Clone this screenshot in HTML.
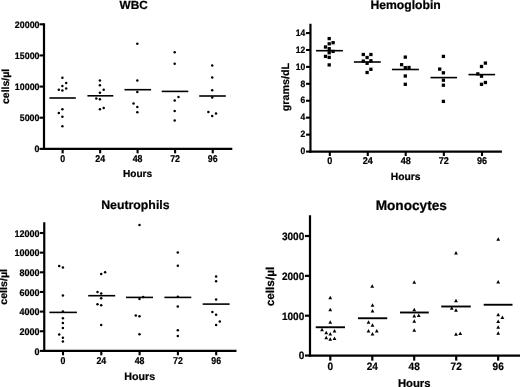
<!DOCTYPE html>
<html><head><meta charset="utf-8"><title>Blood counts over time</title>
<style>
html,body{margin:0;padding:0;background:#fff;}
svg{display:block;will-change:transform;}
svg text{font-family:'Liberation Sans', Arial, Helvetica, sans-serif;font-weight:bold;fill:#000;stroke:#000;stroke-width:0.22px;text-rendering:geometricPrecision;}
svg line{stroke:#000;}
</style></head>
<body>
<svg width="520" height="387" viewBox="0 0 520 387">
<rect x="0" y="0" width="520" height="387" fill="#fff" stroke="none"/>
<g>
<line x1="44" y1="23.3" x2="44" y2="149.95" stroke-width="2.2"/>
<line x1="42.9" y1="148.85" x2="232.3" y2="148.85" stroke-width="2.2"/>
<line x1="39.5" y1="148.85" x2="44" y2="148.85" stroke-width="2.1"/>
<text x="39.5" y="152.12" font-size="9.4" text-anchor="end" textLength="4.93" lengthAdjust="spacingAndGlyphs">0</text>
<line x1="39.5" y1="117.7" x2="44" y2="117.7" stroke-width="2.1"/>
<text x="39.5" y="120.97" font-size="9.4" text-anchor="end" textLength="19.72" lengthAdjust="spacingAndGlyphs">5000</text>
<line x1="39.5" y1="86.58" x2="44" y2="86.58" stroke-width="2.1"/>
<text x="39.5" y="89.85" font-size="9.4" text-anchor="end" textLength="24.65" lengthAdjust="spacingAndGlyphs">10000</text>
<line x1="39.5" y1="55.44" x2="44" y2="55.44" stroke-width="2.1"/>
<text x="39.5" y="58.71" font-size="9.4" text-anchor="end" textLength="24.65" lengthAdjust="spacingAndGlyphs">15000</text>
<line x1="39.5" y1="24.3" x2="44" y2="24.3" stroke-width="2.1"/>
<text x="39.5" y="27.57" font-size="9.4" text-anchor="end" textLength="24.65" lengthAdjust="spacingAndGlyphs">20000</text>
<line x1="62.65" y1="148.85" x2="62.65" y2="153.35" stroke-width="2.1"/>
<text x="62.65" y="161.8" font-size="9.9" text-anchor="middle" textLength="4.9" lengthAdjust="spacingAndGlyphs">0</text>
<line x1="100.15" y1="148.85" x2="100.15" y2="153.35" stroke-width="2.1"/>
<text x="100.15" y="161.8" font-size="9.9" text-anchor="middle" textLength="9.8" lengthAdjust="spacingAndGlyphs">24</text>
<line x1="137.6" y1="148.85" x2="137.6" y2="153.35" stroke-width="2.1"/>
<text x="137.6" y="161.8" font-size="9.9" text-anchor="middle" textLength="9.8" lengthAdjust="spacingAndGlyphs">48</text>
<line x1="175.1" y1="148.85" x2="175.1" y2="153.35" stroke-width="2.1"/>
<text x="175.1" y="161.8" font-size="9.9" text-anchor="middle" textLength="9.8" lengthAdjust="spacingAndGlyphs">72</text>
<line x1="212.75" y1="148.85" x2="212.75" y2="153.35" stroke-width="2.1"/>
<text x="212.75" y="161.8" font-size="9.9" text-anchor="middle" textLength="9.8" lengthAdjust="spacingAndGlyphs">96</text>
<text x="133.6" y="9.3" font-size="11.8" text-anchor="middle">WBC</text>
<text x="137.6" y="176.7" font-size="10.1" text-anchor="middle">Hours</text>
<text x="9" y="86.4" font-size="10.3" text-anchor="middle" transform="rotate(-90 9 86.4)" textLength="35.2" lengthAdjust="spacingAndGlyphs">cells/µl</text>
<line x1="49.4" y1="98.0" x2="75.8" y2="98.0" stroke-width="1.6"/>
<line x1="87.4" y1="95.8" x2="113.3" y2="95.8" stroke-width="1.6"/>
<line x1="124.5" y1="89.7" x2="151.1" y2="89.7" stroke-width="1.6"/>
<line x1="161.7" y1="91.4" x2="188.3" y2="91.4" stroke-width="1.6"/>
<line x1="199.2" y1="96.0" x2="225.8" y2="96.0" stroke-width="1.6"/>
<circle cx="62.4" cy="77.7" r="1.25"/>
<circle cx="66.2" cy="83.0" r="1.25"/>
<circle cx="62.4" cy="86.1" r="1.25"/>
<circle cx="66.2" cy="88.4" r="1.25"/>
<circle cx="58.8" cy="89.7" r="1.25"/>
<circle cx="62.4" cy="90.4" r="1.25"/>
<circle cx="62.4" cy="109.2" r="1.25"/>
<circle cx="58.8" cy="112.9" r="1.25"/>
<circle cx="62.4" cy="116.8" r="1.25"/>
<circle cx="62.4" cy="126.2" r="1.25"/>
<circle cx="99.9" cy="80.5" r="1.25"/>
<circle cx="99.9" cy="85.3" r="1.25"/>
<circle cx="103.7" cy="89.7" r="1.25"/>
<circle cx="99.9" cy="92.8" r="1.25"/>
<circle cx="96.3" cy="98.6" r="1.25"/>
<circle cx="99.9" cy="99.3" r="1.25"/>
<circle cx="103.7" cy="108.0" r="1.25"/>
<circle cx="99.9" cy="109.2" r="1.25"/>
<circle cx="137.3" cy="43.8" r="1.25"/>
<circle cx="137.3" cy="80.5" r="1.25"/>
<circle cx="137.3" cy="91.9" r="1.25"/>
<circle cx="133.5" cy="103.6" r="1.25"/>
<circle cx="137.3" cy="107.1" r="1.25"/>
<circle cx="137.3" cy="112.3" r="1.25"/>
<circle cx="174.7" cy="52.3" r="1.25"/>
<circle cx="174.7" cy="63.7" r="1.25"/>
<circle cx="178.5" cy="97.1" r="1.25"/>
<circle cx="174.7" cy="100.6" r="1.25"/>
<circle cx="174.7" cy="110.9" r="1.25"/>
<circle cx="174.7" cy="120.4" r="1.25"/>
<circle cx="212.2" cy="65.6" r="1.25"/>
<circle cx="212.2" cy="77.5" r="1.25"/>
<circle cx="212.2" cy="90.3" r="1.25"/>
<circle cx="212.2" cy="97.6" r="1.25"/>
<circle cx="208.4" cy="112.0" r="1.25"/>
<circle cx="216" cy="113.6" r="1.25"/>
<circle cx="212.2" cy="116.1" r="1.25"/>
</g>
<g>
<line x1="310.45" y1="23.75" x2="310.45" y2="152.7" stroke-width="2.2"/>
<line x1="309.34999999999997" y1="151.6" x2="501.9" y2="151.6" stroke-width="2.4"/>
<line x1="306.04999999999995" y1="151.6" x2="310.45" y2="151.6" stroke-width="2.1"/>
<text x="305.3" y="154.33" font-size="9.3" text-anchor="end" textLength="4.75" lengthAdjust="spacingAndGlyphs">0</text>
<line x1="306.04999999999995" y1="134.65" x2="310.45" y2="134.65" stroke-width="2.1"/>
<text x="305.3" y="137.38" font-size="9.3" text-anchor="end" textLength="4.75" lengthAdjust="spacingAndGlyphs">2</text>
<line x1="306.04999999999995" y1="117.66" x2="310.45" y2="117.66" stroke-width="2.1"/>
<text x="305.3" y="120.39" font-size="9.3" text-anchor="end" textLength="4.75" lengthAdjust="spacingAndGlyphs">4</text>
<line x1="306.04999999999995" y1="100.74" x2="310.45" y2="100.74" stroke-width="2.1"/>
<text x="305.3" y="103.47" font-size="9.3" text-anchor="end" textLength="4.75" lengthAdjust="spacingAndGlyphs">6</text>
<line x1="306.04999999999995" y1="83.82" x2="310.45" y2="83.82" stroke-width="2.1"/>
<text x="305.3" y="86.55" font-size="9.3" text-anchor="end" textLength="4.75" lengthAdjust="spacingAndGlyphs">8</text>
<line x1="306.04999999999995" y1="66.9" x2="310.45" y2="66.9" stroke-width="2.1"/>
<text x="305.3" y="69.63" font-size="9.3" text-anchor="end" textLength="9.5" lengthAdjust="spacingAndGlyphs">10</text>
<line x1="306.04999999999995" y1="49.98" x2="310.45" y2="49.98" stroke-width="2.1"/>
<text x="305.3" y="52.71" font-size="9.3" text-anchor="end" textLength="9.5" lengthAdjust="spacingAndGlyphs">12</text>
<line x1="306.04999999999995" y1="33.05" x2="310.45" y2="33.05" stroke-width="2.1"/>
<text x="305.3" y="35.78" font-size="9.3" text-anchor="end" textLength="9.5" lengthAdjust="spacingAndGlyphs">14</text>
<line x1="329.8" y1="151.6" x2="329.8" y2="156.0" stroke-width="2.1"/>
<text x="329.8" y="164.3" font-size="9.9" text-anchor="middle" textLength="5.05" lengthAdjust="spacingAndGlyphs">0</text>
<line x1="367.75" y1="151.6" x2="367.75" y2="156.0" stroke-width="2.1"/>
<text x="367.75" y="164.3" font-size="9.9" text-anchor="middle" textLength="10.1" lengthAdjust="spacingAndGlyphs">24</text>
<line x1="405.7" y1="151.6" x2="405.7" y2="156.0" stroke-width="2.1"/>
<text x="405.7" y="164.3" font-size="9.9" text-anchor="middle" textLength="10.1" lengthAdjust="spacingAndGlyphs">48</text>
<line x1="443.85" y1="151.6" x2="443.85" y2="156.0" stroke-width="2.1"/>
<text x="443.85" y="164.3" font-size="9.9" text-anchor="middle" textLength="10.1" lengthAdjust="spacingAndGlyphs">72</text>
<line x1="482.0" y1="151.6" x2="482.0" y2="156.0" stroke-width="2.1"/>
<text x="482.0" y="164.3" font-size="9.9" text-anchor="middle" textLength="10.1" lengthAdjust="spacingAndGlyphs">96</text>
<text x="405.6" y="9" font-size="12.2" text-anchor="middle">Hemoglobin</text>
<text x="405.6" y="179.8" font-size="10.3" text-anchor="middle">Hours</text>
<text x="289.3" y="87.1" font-size="10.6" text-anchor="middle" transform="rotate(-90 289.3 87.1)" textLength="48.4" lengthAdjust="spacingAndGlyphs">grams/dL</text>
<line x1="316" y1="50.7" x2="342.9" y2="50.7" stroke-width="1.6"/>
<line x1="353.9" y1="62.0" x2="380.8" y2="62.0" stroke-width="1.6"/>
<line x1="391.9" y1="69.5" x2="418.9" y2="69.5" stroke-width="1.6"/>
<line x1="430.5" y1="77.6" x2="457" y2="77.6" stroke-width="1.6"/>
<line x1="468.5" y1="74.6" x2="495.1" y2="74.6" stroke-width="1.6"/>
<rect x="327.55" y="36.95" width="3.3" height="3.3"/>
<rect x="331.45" y="41.05" width="3.3" height="3.3"/>
<rect x="327.55" y="42.15" width="3.3" height="3.3"/>
<rect x="323.85" y="45.35" width="3.3" height="3.3"/>
<rect x="327.55" y="47.05" width="3.3" height="3.3"/>
<rect x="331.45" y="49.75" width="3.3" height="3.3"/>
<rect x="327.55" y="51.05" width="3.3" height="3.3"/>
<rect x="323.85" y="54.75" width="3.3" height="3.3"/>
<rect x="327.55" y="55.75" width="3.3" height="3.3"/>
<rect x="327.55" y="63.25" width="3.3" height="3.3"/>
<rect x="361.65" y="52.85" width="3.3" height="3.3"/>
<rect x="369.25" y="52.85" width="3.3" height="3.3"/>
<rect x="365.45" y="55.85" width="3.3" height="3.3"/>
<rect x="361.65" y="59.45" width="3.3" height="3.3"/>
<rect x="369.25" y="59.15" width="3.3" height="3.3"/>
<rect x="365.45" y="61.65" width="3.3" height="3.3"/>
<rect x="369.25" y="67.65" width="3.3" height="3.3"/>
<rect x="365.45" y="70.85" width="3.3" height="3.3"/>
<rect x="403.65" y="55.45" width="3.3" height="3.3"/>
<rect x="399.95" y="63.05" width="3.3" height="3.3"/>
<rect x="403.65" y="66.05" width="3.3" height="3.3"/>
<rect x="407.35" y="65.85" width="3.3" height="3.3"/>
<rect x="403.65" y="74.35" width="3.3" height="3.3"/>
<rect x="403.65" y="82.65" width="3.3" height="3.3"/>
<rect x="441.75" y="54.75" width="3.3" height="3.3"/>
<rect x="438.05" y="67.45" width="3.3" height="3.3"/>
<rect x="441.75" y="71.15" width="3.3" height="3.3"/>
<rect x="441.75" y="78.55" width="3.3" height="3.3"/>
<rect x="441.75" y="83.55" width="3.3" height="3.3"/>
<rect x="441.75" y="99.75" width="3.3" height="3.3"/>
<rect x="483.75" y="61.45" width="3.3" height="3.3"/>
<rect x="479.85" y="64.85" width="3.3" height="3.3"/>
<rect x="476.15" y="72.25" width="3.3" height="3.3"/>
<rect x="479.85" y="74.55" width="3.3" height="3.3"/>
<rect x="483.75" y="80.85" width="3.3" height="3.3"/>
<rect x="479.85" y="82.65" width="3.3" height="3.3"/>
</g>
<g>
<line x1="44.25" y1="222.25" x2="44.25" y2="352.0" stroke-width="2.2"/>
<line x1="43.15" y1="350.9" x2="236.5" y2="350.9" stroke-width="2.2"/>
<line x1="39.85" y1="350.9" x2="44.25" y2="350.9" stroke-width="2.1"/>
<text x="39.4" y="354.54" font-size="9.6" text-anchor="end" textLength="5.0" lengthAdjust="spacingAndGlyphs">0</text>
<line x1="39.85" y1="331.25" x2="44.25" y2="331.25" stroke-width="2.1"/>
<text x="39.4" y="334.89" font-size="9.6" text-anchor="end" textLength="20.0" lengthAdjust="spacingAndGlyphs">2000</text>
<line x1="39.85" y1="311.6" x2="44.25" y2="311.6" stroke-width="2.1"/>
<text x="39.4" y="315.24" font-size="9.6" text-anchor="end" textLength="20.0" lengthAdjust="spacingAndGlyphs">4000</text>
<line x1="39.85" y1="291.95" x2="44.25" y2="291.95" stroke-width="2.1"/>
<text x="39.4" y="295.59" font-size="9.6" text-anchor="end" textLength="20.0" lengthAdjust="spacingAndGlyphs">6000</text>
<line x1="39.85" y1="272.3" x2="44.25" y2="272.3" stroke-width="2.1"/>
<text x="39.4" y="275.94" font-size="9.6" text-anchor="end" textLength="20.0" lengthAdjust="spacingAndGlyphs">8000</text>
<line x1="39.85" y1="252.65" x2="44.25" y2="252.65" stroke-width="2.1"/>
<text x="39.4" y="256.29" font-size="9.6" text-anchor="end" textLength="25.0" lengthAdjust="spacingAndGlyphs">10000</text>
<line x1="39.85" y1="233.0" x2="44.25" y2="233.0" stroke-width="2.1"/>
<text x="39.4" y="236.64" font-size="9.6" text-anchor="end" textLength="25.0" lengthAdjust="spacingAndGlyphs">12000</text>
<line x1="63" y1="350.9" x2="63" y2="355.3" stroke-width="2.1"/>
<text x="63" y="364" font-size="10.0" text-anchor="middle" textLength="4.9" lengthAdjust="spacingAndGlyphs">0</text>
<line x1="101.3" y1="350.9" x2="101.3" y2="355.3" stroke-width="2.1"/>
<text x="101.3" y="364" font-size="10.0" text-anchor="middle" textLength="9.8" lengthAdjust="spacingAndGlyphs">24</text>
<line x1="139.6" y1="350.9" x2="139.6" y2="355.3" stroke-width="2.1"/>
<text x="139.6" y="364" font-size="10.0" text-anchor="middle" textLength="9.8" lengthAdjust="spacingAndGlyphs">48</text>
<line x1="177.9" y1="350.9" x2="177.9" y2="355.3" stroke-width="2.1"/>
<text x="177.9" y="364" font-size="10.0" text-anchor="middle" textLength="9.8" lengthAdjust="spacingAndGlyphs">72</text>
<line x1="216.2" y1="350.9" x2="216.2" y2="355.3" stroke-width="2.1"/>
<text x="216.2" y="364" font-size="10.0" text-anchor="middle" textLength="9.8" lengthAdjust="spacingAndGlyphs">96</text>
<text x="135.4" y="209" font-size="12.3" text-anchor="middle">Neutrophils</text>
<text x="139.8" y="380" font-size="10.7" text-anchor="middle">Hours</text>
<text x="7.3" y="286.9" font-size="10.4" text-anchor="middle" transform="rotate(-90 7.3 286.9)" textLength="35.8" lengthAdjust="spacingAndGlyphs">cells/µl</text>
<line x1="49.4" y1="312.4" x2="76.9" y2="312.4" stroke-width="1.6"/>
<line x1="88.2" y1="295.7" x2="115.2" y2="295.7" stroke-width="1.6"/>
<line x1="126" y1="297.4" x2="153" y2="297.4" stroke-width="1.6"/>
<line x1="164.4" y1="297.4" x2="191.3" y2="297.4" stroke-width="1.6"/>
<line x1="202.7" y1="304.1" x2="229.6" y2="304.1" stroke-width="1.6"/>
<circle cx="59.2" cy="266.0" r="1.25"/>
<circle cx="62.9" cy="267.5" r="1.25"/>
<circle cx="62.9" cy="295.5" r="1.25"/>
<circle cx="62.9" cy="311.4" r="1.25"/>
<circle cx="62.9" cy="318.3" r="1.25"/>
<circle cx="62.9" cy="323.0" r="1.25"/>
<circle cx="62.9" cy="327.9" r="1.25"/>
<circle cx="59.2" cy="334.5" r="1.25"/>
<circle cx="62.9" cy="337.7" r="1.25"/>
<circle cx="62.9" cy="341.4" r="1.25"/>
<circle cx="105.1" cy="272.2" r="1.25"/>
<circle cx="101.2" cy="274.1" r="1.25"/>
<circle cx="97.5" cy="292.1" r="1.25"/>
<circle cx="101.2" cy="293.5" r="1.25"/>
<circle cx="101.2" cy="298.2" r="1.25"/>
<circle cx="97.5" cy="304.3" r="1.25"/>
<circle cx="101.2" cy="305.3" r="1.25"/>
<circle cx="101.2" cy="324.9" r="1.25"/>
<circle cx="139.5" cy="225.1" r="1.25"/>
<circle cx="143.2" cy="297" r="1.25"/>
<circle cx="139.5" cy="299.0" r="1.25"/>
<circle cx="135.8" cy="315.5" r="1.25"/>
<circle cx="139.5" cy="316.2" r="1.25"/>
<circle cx="139.5" cy="334.3" r="1.25"/>
<circle cx="177.8" cy="252.6" r="1.25"/>
<circle cx="177.8" cy="265.8" r="1.25"/>
<circle cx="177.8" cy="296.7" r="1.25"/>
<circle cx="177.8" cy="306.4" r="1.25"/>
<circle cx="177.8" cy="330.3" r="1.25"/>
<circle cx="177.8" cy="336.0" r="1.25"/>
<circle cx="216.1" cy="276.5" r="1.25"/>
<circle cx="216.1" cy="281.2" r="1.25"/>
<circle cx="216.1" cy="299.4" r="1.25"/>
<circle cx="212.4" cy="312.1" r="1.25"/>
<circle cx="216.1" cy="314.8" r="1.25"/>
<circle cx="219.8" cy="321.6" r="1.25"/>
<circle cx="216.1" cy="324.9" r="1.25"/>
</g>
<g>
<line x1="310" y1="215.25" x2="310" y2="356.65000000000003" stroke-width="2.2"/>
<line x1="308.9" y1="355.55" x2="521" y2="355.55" stroke-width="2.2"/>
<line x1="304.9" y1="355.55" x2="310" y2="355.55" stroke-width="2.2"/>
<text x="304.3" y="359.38" font-size="10.7" text-anchor="end" textLength="5.6" lengthAdjust="spacingAndGlyphs">0</text>
<line x1="304.9" y1="315.7" x2="310" y2="315.7" stroke-width="2.2"/>
<text x="304.3" y="319.53" font-size="10.7" text-anchor="end" textLength="22.4" lengthAdjust="spacingAndGlyphs">1000</text>
<line x1="304.9" y1="275.85" x2="310" y2="275.85" stroke-width="2.2"/>
<text x="304.3" y="279.68" font-size="10.7" text-anchor="end" textLength="22.4" lengthAdjust="spacingAndGlyphs">2000</text>
<line x1="304.9" y1="236" x2="310" y2="236" stroke-width="2.2"/>
<text x="304.3" y="239.83" font-size="10.7" text-anchor="end" textLength="22.4" lengthAdjust="spacingAndGlyphs">3000</text>
<line x1="330.3" y1="355.55" x2="330.3" y2="360.65000000000003" stroke-width="2.2"/>
<text x="330.3" y="370.1" font-size="10.7" text-anchor="middle" textLength="5.6" lengthAdjust="spacingAndGlyphs">0</text>
<line x1="372.3" y1="355.55" x2="372.3" y2="360.65000000000003" stroke-width="2.2"/>
<text x="372.3" y="370.1" font-size="10.7" text-anchor="middle" textLength="11.2" lengthAdjust="spacingAndGlyphs">24</text>
<line x1="414.2" y1="355.55" x2="414.2" y2="360.65000000000003" stroke-width="2.2"/>
<text x="414.2" y="370.1" font-size="10.7" text-anchor="middle" textLength="11.2" lengthAdjust="spacingAndGlyphs">48</text>
<line x1="456.2" y1="355.55" x2="456.2" y2="360.65000000000003" stroke-width="2.2"/>
<text x="456.2" y="370.1" font-size="10.7" text-anchor="middle" textLength="11.2" lengthAdjust="spacingAndGlyphs">72</text>
<line x1="498.15" y1="355.55" x2="498.15" y2="360.65000000000003" stroke-width="2.2"/>
<text x="498.15" y="370.1" font-size="10.7" text-anchor="middle" textLength="11.2" lengthAdjust="spacingAndGlyphs">96</text>
<text x="411.3" y="209.5" font-size="13.65" text-anchor="middle">Monocytes</text>
<text x="414.2" y="387.2" font-size="11.3" text-anchor="middle">Hours</text>
<text x="273.7" y="286.5" font-size="11.5" text-anchor="middle" transform="rotate(-90 273.7 286.5)" textLength="39.6" lengthAdjust="spacingAndGlyphs">cells/µl</text>
<line x1="315.75" y1="327.25" x2="345" y2="327.25" stroke-width="1.9"/>
<line x1="358" y1="318.25" x2="387.25" y2="318.25" stroke-width="1.9"/>
<line x1="400" y1="312.5" x2="428.75" y2="312.5" stroke-width="1.9"/>
<line x1="441.25" y1="306.5" x2="470.75" y2="306.5" stroke-width="1.9"/>
<line x1="483.7" y1="304.75" x2="512.5" y2="304.75" stroke-width="1.9"/>
<path d="M328.35 299.25L332.15 299.25L330.25 295.75Z"/>
<path d="M328.35 311.25L332.15 311.25L330.25 307.75Z"/>
<path d="M328.35 323.75L332.15 323.75L330.25 320.25Z"/>
<path d="M320.10 331.25L323.90 331.25L322.00 327.75Z"/>
<path d="M332.60 332.50L336.40 332.50L334.50 329.00Z"/>
<path d="M324.35 334.25L328.15 334.25L326.25 330.75Z"/>
<path d="M328.35 335.50L332.15 335.50L330.25 332.00Z"/>
<path d="M324.35 339.25L328.15 339.25L326.25 335.75Z"/>
<path d="M328.35 340.75L332.15 340.75L330.25 337.25Z"/>
<path d="M332.60 340.00L336.40 340.00L334.50 336.50Z"/>
<path d="M370.30 287.75L374.10 287.75L372.20 284.25Z"/>
<path d="M370.60 306.75L374.40 306.75L372.50 303.25Z"/>
<path d="M370.60 312.50L374.40 312.50L372.50 309.00Z"/>
<path d="M366.60 323.75L370.40 323.75L368.50 320.25Z"/>
<path d="M370.60 326.75L374.40 326.75L372.50 323.25Z"/>
<path d="M366.60 332.50L370.40 332.50L368.50 329.00Z"/>
<path d="M374.85 332.50L378.65 332.50L376.75 329.00Z"/>
<path d="M370.60 335.50L374.40 335.50L372.50 332.00Z"/>
<path d="M412.35 283.75L416.15 283.75L414.25 280.25Z"/>
<path d="M412.35 311.25L416.15 311.25L414.25 307.75Z"/>
<path d="M412.35 317.50L416.15 317.50L414.25 314.00Z"/>
<path d="M416.85 317.00L420.65 317.00L418.75 313.50Z"/>
<path d="M412.35 322.75L416.15 322.75L414.25 319.25Z"/>
<path d="M412.35 331.75L416.15 331.75L414.25 328.25Z"/>
<path d="M454.10 254.50L457.90 254.50L456.00 251.00Z"/>
<path d="M454.10 302.25L457.90 302.25L456.00 298.75Z"/>
<path d="M449.85 309.75L453.65 309.75L451.75 306.25Z"/>
<path d="M454.10 311.75L457.90 311.75L456.00 308.25Z"/>
<path d="M454.10 335.75L457.90 335.75L456.00 332.25Z"/>
<path d="M458.35 335.00L462.15 335.00L460.25 331.50Z"/>
<path d="M496.30 240.75L500.10 240.75L498.20 237.25Z"/>
<path d="M496.30 283.50L500.10 283.50L498.20 280.00Z"/>
<path d="M496.30 316.25L500.10 316.25L498.20 312.75Z"/>
<path d="M500.50 319.00L504.30 319.00L502.40 315.50Z"/>
<path d="M496.30 323.00L500.10 323.00L498.20 319.50Z"/>
<path d="M496.30 328.75L500.10 328.75L498.20 325.25Z"/>
<path d="M496.30 334.75L500.10 334.75L498.20 331.25Z"/>
</g>
</svg>
</body></html>
